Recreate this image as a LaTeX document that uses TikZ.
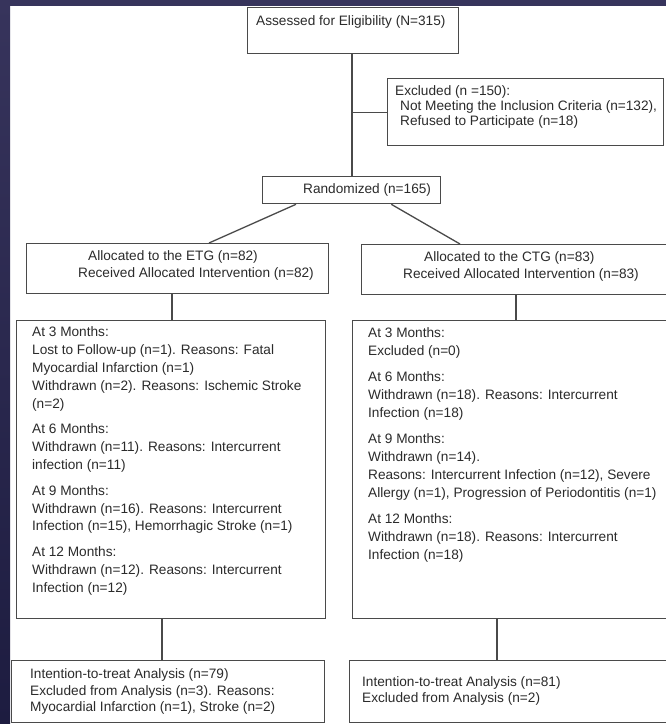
\documentclass[tikz,border=0pt]{standalone}
\usepackage{fontspec}
\setmainfont{Liberation Sans}
\definecolor{navy}{HTML}{37345C}
\definecolor{navydark}{HTML}{1D1C40}
\definecolor{linec}{HTML}{4A4A4A}
\definecolor{txt}{HTML}{2B2B2B}
\newcommand{\boxlines}[1]{\begin{tabular}[t]{@{}l@{}}#1\end{tabular}}
\begin{document}
\begin{tikzpicture}[x=1pt,y=-1pt,
  box/.style={draw=linec, line width=1.3pt, rectangle, inner sep=0pt, anchor=north west},
  txtnode/.style={anchor=base west, inner sep=0pt, text=txt},
  fsA/.style={font=\fontsize{13.65}{17.8}\selectfont},
  fsB/.style={font=\fontsize{13.65}{16.5}\selectfont},
  fsC/.style={font=\fontsize{13.65}{15}\selectfont},
  link/.style={draw=linec, line width=1.3pt}]
\useasboundingbox (0,0) rectangle (666,724);
\clip (0,0) rectangle (666,724);
\fill[white] (0,0) rectangle (666,724);
\shade[top color=navy, bottom color=navydark] (0,0) rectangle (10,724);
\fill[navy] (0,0) rectangle (666,6);

% boxes
\node[box, minimum width=211, minimum height=46] (assess) at (247,7) {};
\node[box, minimum width=276, minimum height=67] (excl) at (387,78) {};
\node[box, minimum width=178, minimum height=27] (rand) at (262,176) {};
\node[box, minimum width=302, minimum height=50] (etg) at (26,243) {};
\node[box, minimum width=320, minimum height=50] (ctg) at (361,244) {};
\node[box, minimum width=309, minimum height=298] (etgf) at (16,320) {};
\node[box, minimum width=330, minimum height=298] (ctgf) at (352,320) {};
\node[box, minimum width=313, minimum height=62] (etga) at (11,660) {};
\node[box, minimum width=330, minimum height=62] (ctga) at (349,660) {};

% connectors
\draw[link] ([xshift=105pt]assess.south west) -- ([xshift=105pt]assess.south west |- rand.north);
\draw[link] ([xshift=105pt]assess.south west |- excl.west) -- (excl.west);
\draw[link] ([xshift=34pt]rand.south west) -- ([xshift=183pt]etg.north west);
\draw[link] ([xshift=-50pt]rand.south east) -- ([xshift=99pt]ctg.north west);
\draw[link] ([xshift=146pt]etg.south west) -- ([xshift=146pt]etg.south west |- etgf.north);
\draw[link] ([xshift=155pt]ctg.south west) -- ([xshift=155pt]ctg.south west |- ctgf.north);
\draw[link] ([xshift=146pt]etgf.south west) -- ([xshift=146pt]etgf.south west |- etga.north);
\draw[link] ([xshift=145pt]ctgf.south west) -- ([xshift=145pt]ctgf.south west |- ctga.north);

% texts
\node[txtnode, fsA] (tassess) at (256,25.5) {Assessed for Eligibility (N=315)};
\node[txtnode, fsC] (texcl) at (395,95.8) {\boxlines{Excluded (n =150):\\
\hspace*{5pt}Not Meeting the Inclusion Criteria (n=132),\\
\hspace*{5pt}Refused to Participate (n=18)}};
\node[txtnode, fsA] (trand) at (303,193.8) {Randomized (n=165)};
\node[txtnode, fsB] (tetg) at (78,260.8) {\boxlines{\hspace*{10pt}Allocated to the ETG (n=82)\\
Received Allocated Intervention (n=82)}};
\node[txtnode, fsB] (tctg) at (403,261.5) {\boxlines{\hspace*{21pt}Allocated to the CTG (n=83)\\
Received Allocated Intervention (n=83)}};
\node[txtnode, fsA] (tetgf) at (32,336.8) {\boxlines{At 3 Months:\\
Lost to Follow-up (n=1). Reasons: Fatal\\
Myocardial Infarction (n=1)\\
Withdrawn (n=2). Reasons: Ischemic Stroke\\
(n=2)\\[8pt]
At 6 Months:\\
Withdrawn (n=11). Reasons: Intercurrent\\
infection (n=11)\\[8pt]
At 9 Months:\\
Withdrawn (n=16). Reasons: Intercurrent\\
Infection (n=15), Hemorrhagic Stroke (n=1)\\[8pt]
At 12 Months:\\
Withdrawn (n=12). Reasons: Intercurrent\\
Infection (n=12)}};
\node[txtnode, fsA] (tctgf) at (368,337.8) {\boxlines{At 3 Months:\\
Excluded (n=0)\\[8.5pt]
At 6 Months:\\
Withdrawn (n=18). Reasons: Intercurrent\\
Infection (n=18)\\[8.5pt]
At 9 Months:\\
Withdrawn (n=14).\\
Reasons: Intercurrent Infection (n=12), Severe\\
Allergy (n=1), Progression of Periodontitis (n=1)\\[8.5pt]
At 12 Months:\\
Withdrawn (n=18). Reasons: Intercurrent\\
Infection (n=18)}};
\node[txtnode, fsB] (tetga) at (30,678.8) {\boxlines{Intention-to-treat Analysis (n=79)\\
Excluded from Analysis (n=3). Reasons:\\
Myocardial Infarction (n=1), Stroke (n=2)}};
\node[txtnode, fsB] (tctga) at (362,686) {\boxlines{Intention-to-treat Analysis (n=81)\\
Excluded from Analysis (n=2)}};
\end{tikzpicture}
\end{document}
